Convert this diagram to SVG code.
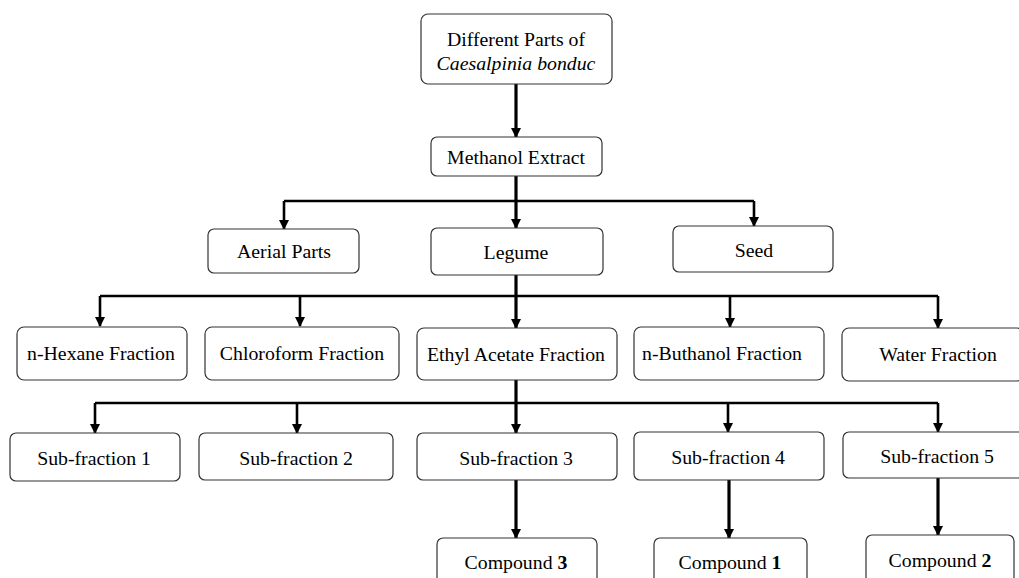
<svg xmlns="http://www.w3.org/2000/svg" width="1019" height="578" viewBox="0 0 1019 578">
<defs>
<marker id="ah" markerUnits="userSpaceOnUse" markerWidth="10" markerHeight="11" refX="9" refY="5" orient="auto">
<path d="M0,0 L10,5 L0,10 Z" fill="#000"/>
</marker>
<style>
.box{fill:#fff;stroke:#333;stroke-width:1.2}
.t{font-family:"Liberation Serif","Times New Roman",serif;font-size:19.8px;fill:#000;text-anchor:middle}
.c{fill:none;stroke:#000;stroke-width:2.6}
.m{fill:none;stroke:#000;stroke-width:3.2}
</style>
</defs>
<rect width="1019" height="578" fill="#fff"/>
<g id="connectors">
<path class="m" d="M516,84 V137" marker-end="url(#ah)"/>
<path class="m" d="M516,176 V228" marker-end="url(#ah)"/>
<path class="c" d="M284,201 H754"/>
<path class="c" d="M284,201 V229" marker-end="url(#ah)"/>
<path class="c" d="M754,201 V226" marker-end="url(#ah)"/>
<path class="m" d="M516,275 V328" marker-end="url(#ah)"/>
<path class="c" d="M100,296 H938"/>
<path class="c" d="M100,296 V326" marker-end="url(#ah)"/>
<path class="c" d="M300,296 V326" marker-end="url(#ah)"/>
<path class="c" d="M730,296 V327" marker-end="url(#ah)"/>
<path class="c" d="M938,296 V328" marker-end="url(#ah)"/>
<path class="m" d="M516,380 V433" marker-end="url(#ah)"/>
<path class="c" d="M95,403 H938"/>
<path class="c" d="M95,403 V433" marker-end="url(#ah)"/>
<path class="c" d="M297,403 V433" marker-end="url(#ah)"/>
<path class="c" d="M728,403 V432" marker-end="url(#ah)"/>
<path class="c" d="M938,403 V432" marker-end="url(#ah)"/>
<path class="m" d="M516,480 V538" marker-end="url(#ah)"/>
<path class="m" d="M729,480 V538" marker-end="url(#ah)"/>
<path class="m" d="M938,478 V535" marker-end="url(#ah)"/>
</g>
<g id="n-parts"><rect class="box" x="421" y="14" width="191" height="70" rx="7"/>
<text class="t" x="516" y="46">Different Parts of</text>
<text class="t" x="516" y="70" font-style="italic">Caesalpinia bonduc</text></g>
<g id="n-methanol"><rect class="box" x="431" y="137" width="171" height="39" rx="6"/><text class="t" x="516" y="164">Methanol Extract</text></g>
<g id="n-aerial"><rect class="box" x="208" y="229" width="151" height="44" rx="6"/><text class="t" x="284" y="258">Aerial Parts</text></g>
<g id="n-legume"><rect class="box" x="431" y="228" width="172" height="47" rx="6"/><text class="t" x="516" y="259">Legume</text></g>
<g id="n-seed"><rect class="box" x="673" y="226" width="160" height="46" rx="6"/><text class="t" x="754" y="257">Seed</text></g>
<g id="n-hexane"><rect class="box" x="17" y="327" width="170" height="53" rx="7"/><text class="t" x="101" y="360">n-Hexane Fraction</text></g>
<g id="n-chloro"><rect class="box" x="205" y="327" width="194" height="53" rx="7"/><text class="t" x="302" y="360">Chloroform Fraction</text></g>
<g id="n-ethyl"><rect class="box" x="417" y="328" width="200" height="52" rx="7"/><text class="t" x="516" y="361">Ethyl Acetate Fraction</text></g>
<g id="n-butanol"><rect class="box" x="634" y="327" width="190" height="53" rx="7"/><text class="t" x="722" y="360">n-Buthanol Fraction</text></g>
<g id="n-water"><rect class="box" x="842" y="328" width="182" height="53" rx="7"/><text class="t" x="938" y="361">Water Fraction</text></g>
<g id="n-sub1"><rect class="box" x="10" y="433" width="170" height="48" rx="6"/><text class="t" x="94" y="465">Sub-fraction 1</text></g>
<g id="n-sub2"><rect class="box" x="199" y="433" width="194" height="47" rx="6"/><text class="t" x="296" y="465">Sub-fraction 2</text></g>
<g id="n-sub3"><rect class="box" x="417" y="433" width="200" height="47" rx="6"/><text class="t" x="516" y="465">Sub-fraction 3</text></g>
<g id="n-sub4"><rect class="box" x="634" y="432" width="190" height="48" rx="6"/><text class="t" x="728" y="464">Sub-fraction 4</text></g>
<g id="n-sub5"><rect class="box" x="843" y="432" width="182" height="46" rx="6"/><text class="t" x="937" y="463">Sub-fraction 5</text></g>
<g id="n-comp3"><rect class="box" x="437" y="538" width="160" height="50" rx="6"/><text class="t" x="516" y="569">Compound <tspan font-weight="bold">3</tspan></text></g>
<g id="n-comp1"><rect class="box" x="654" y="538" width="153" height="50" rx="6"/><text class="t" x="730" y="569">Compound <tspan font-weight="bold">1</tspan></text></g>
<g id="n-comp2"><rect class="box" x="866" y="535" width="148" height="50" rx="6"/><text class="t" x="940" y="567">Compound <tspan font-weight="bold">2</tspan></text></g>
</svg>
